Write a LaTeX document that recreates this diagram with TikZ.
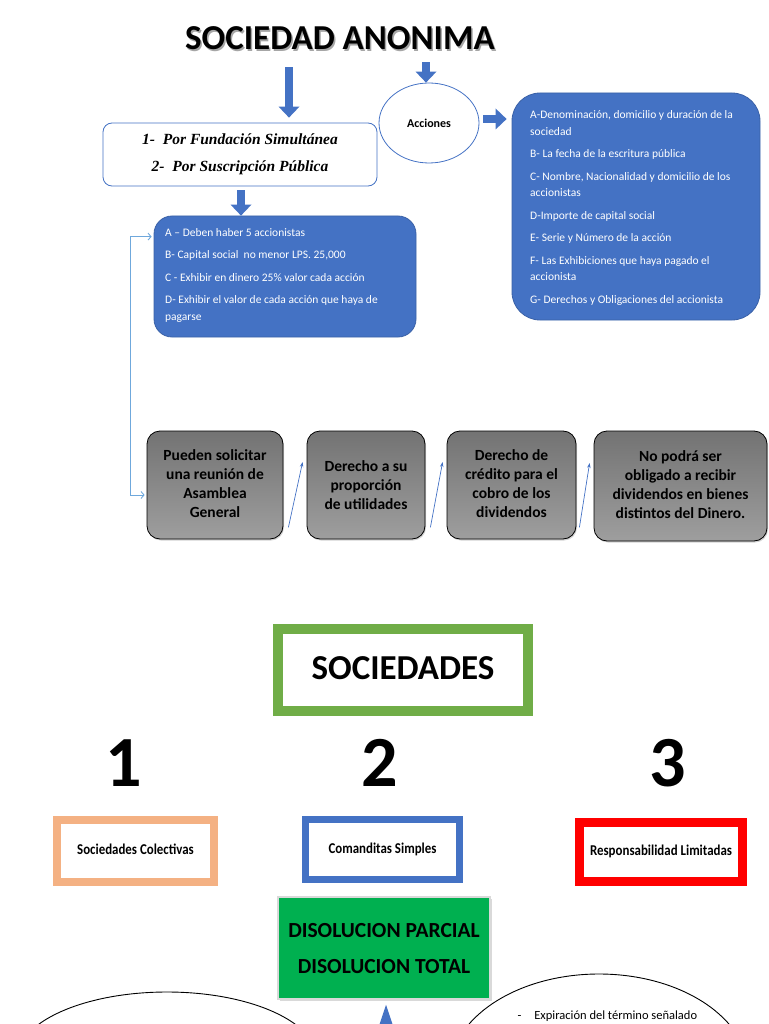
\documentclass[tikz,border=0pt]{standalone}
\usepackage{fontspec}
\setmainfont{Carlito}
\newfontfamily\fundfont{Liberation Serif}
\usetikzlibrary{calc,arrows.meta,shapes.geometric,shadows}
\definecolor{blockblue}{HTML}{4472C4}
\definecolor{linkblue}{HTML}{6FA8DC}
\definecolor{framegreen}{HTML}{70AD47}
\definecolor{fillgreen}{HTML}{00B050}
\definecolor{frameorange}{HTML}{F4B183}
\tikzset{
	bigarrow/.style={draw=blockblue, line width=8pt, -{Triangle[width=21pt,length=11pt,line width=0pt]}},
	uparrow/.style={draw=blockblue, line width=9pt, -{Triangle[width=30pt,length=45pt,line width=0pt]}},
	thinarrow/.style={draw=blockblue, line width=0.7pt, -{Stealth[length=5pt,width=3.5pt]}},
	linkarrow/.style={draw=linkblue, line width=0.9pt, {Straight Barb[length=3pt,width=7pt]}-{Straight Barb[length=3pt,width=7pt]}},
	fundbox/.style={draw=blockblue, line width=0.8pt, rounded corners=9pt, fill=white, minimum width=274pt, minimum height=63pt, align=center, font=\fundfont\bfseries\itshape\fontsize{15.5}{27}\selectfont},
	accnode/.style={draw=blockblue, line width=0.8pt, ellipse, minimum width=100pt, minimum height=80pt, font=\bfseries\fontsize{12}{14}\selectfont},
	bluebox/.style={draw=blockblue!85!black, line width=0.8pt, fill=blockblue},
	bluetext/.style={text=white, align=left, inner sep=0pt, font=\fontsize{11.5}{16.5}\selectfont},
	graybox/.style={draw=black, line width=0.8pt, rounded corners=13pt, top color=black!55, bottom color=black!38, drop shadow={opacity=0.35, shadow xshift=1pt, shadow yshift=-1.5pt}, minimum height=108pt, align=center, font=\bfseries\fontsize{15.5}{19}\selectfont},
	typebox/.style={fill=white, drop shadow={opacity=0.3, shadow xshift=1.5pt, shadow yshift=-1.5pt}, font=\bfseries\fontsize{15}{17}\selectfont},
	bignum/.style={font=\bfseries\fontsize{72}{74}\selectfont},
}

\begin{document}
\begin{tikzpicture}[x=1pt,y=-1pt]
	\useasboundingbox (0,0) rectangle (768,1024);
	\clip (0,0) rectangle (768,1024);
	
	%%%%% SOCIEDAD ANONIMA %%%%%
	
	\node[text=black!35, font=\bfseries\fontsize{35}{40}\selectfont] (titleshadow) at (341.5,40) {SOCIEDAD ANONIMA};
	\node[font=\bfseries\fontsize{35}{40}\selectfont] (title) at (340,38) {SOCIEDAD ANONIMA};
	
	\node[fundbox] (fund) at (240,154.5) {1-\ \ Por Fundación Simultánea\\2-\ \ Por Suscripción Pública};
	\node[accnode] (acc) at (429,123) {Acciones};
	
	\node[bluebox, rounded corners=28pt, minimum width=248pt, minimum height=227pt] (rbox) at (636,206.5) {};
	\node[bluetext, anchor=west] (rtext) at (530,208) {A-Denominación, domicilio y duración de la\\sociedad\\[6pt]
		B- La fecha de la escritura pública\\[6pt]
		C- Nombre, Nacionalidad y domicilio de los\\accionistas\\[6pt]
		D-Importe de capital social\\[6pt]
		E- Serie y Número de la acción\\[6pt]
		F- Las Exhibiciones que haya pagado el\\accionista\\[6pt]
		G- Derechos y Obligaciones del accionista};
	
	\node[bluebox, rounded corners=18pt, minimum width=262pt, minimum height=121pt] (lbox) at (285,276.5) {};
	\node[bluetext, anchor=west] (ltext) at (165,275) {A -- Deben haber 5 accionistas\\[6pt]
		B- Capital social\ \ no menor LPS. 25,000\\[6pt]
		C - Exhibir en dinero 25\% valor cada acción\\[6pt]
		D- Exhibir el valor de cada acción que haya de\\pagarse};
	
	\draw[bigarrow] ($(title.south)+(-51,14)$) -- ($(fund.north)+(49,-5)$);
	\draw[bigarrow] ($(title.south)+(86,9)$) -- ($(acc.north)+(-3,0)$);
	\draw[bigarrow] ($(acc.east)+(4,-4)$) -- ($(rbox.west)+(-5,-87.5)$);
	\draw[bigarrow] ($(fund.south)+(1,4)$) -- ($(lbox.north)+(-44,0)$);
	
	%%%%% DERECHOS %%%%%
	
	\node[graybox, minimum width=136pt] (g1) at (215,485) {\raisebox{3pt}{\begin{tabular}{@{}c@{}}Pueden solicitar\\una reunión de\\Asamblea\\General\end{tabular}}};
	\node[graybox, minimum width=118pt] (g2) at (366,485) {Derecho a su\\proporción\\de utilidades};
	\node[graybox, minimum width=129pt] (g3) at (511.5,485) {\raisebox{3pt}{\begin{tabular}{@{}c@{}}Derecho de\\crédito para el\\cobro de los\\dividendos\end{tabular}}};
	\node[graybox, minimum width=173pt, minimum height=110pt] (g4) at (680.5,486) {\raisebox{3pt}{\begin{tabular}{@{}c@{}}No podrá ser\\obligado a recibir\\dividendos en bienes\\distintos del Dinero.\end{tabular}}};
	
	\draw[linkarrow] ($(lbox.north west)+(-2,21)$) -- ++(-21,0) |- ($(g1.west)+(-2,10)$);
	\draw[thinarrow] ($(g1.south east)+(5,-12)$) -- ($(g2.west)+(-4,-23)$);
	\draw[thinarrow] ($(g2.south east)+(5,-12)$) -- ($(g3.west)+(-4,-23)$);
	\draw[thinarrow] ($(g3.south east)+(3,-12)$) -- ($(g4.west)+(-4,-23)$);
	
	%%%%% SOCIEDADES %%%%%
	
	\node[draw=framegreen, line width=10pt, minimum width=250pt, minimum height=82pt, font=\bfseries\fontsize{35}{38}\selectfont] (soc) at (403,670) {\raisebox{4pt}{SOCIEDADES}};
	
	\node[bignum] (n1) at (124,763) {1};
	\node[bignum] (n2) at (380,763) {2};
	\node[bignum] (n3) at (668,763) {3};
	
	\node[typebox, draw=frameorange, line width=8pt, minimum width=157pt, minimum height=62pt] (colect) at (135.5,851) {\raisebox{4pt}{\scalebox{0.86}[1]{Sociedades Colectivas}}};
	\node[typebox, draw=blockblue, line width=7pt, minimum width=154pt, minimum height=60pt] (comand) at (382.5,849.5) {\raisebox{3pt}{\scalebox{0.86}[1]{Comanditas Simples}}};
	\node[typebox, draw=red, line width=9pt, minimum width=163pt, minimum height=59pt] (limit) at (661,852) {\raisebox{4pt}{\scalebox{0.86}[1]{Responsabilidad Limitadas}}};
	
	\node[fill=fillgreen, draw=black!15, line width=1.5pt, drop shadow={opacity=0.3, shadow xshift=1.5pt, shadow yshift=-1.5pt}, minimum width=212pt, minimum height=102pt, align=center, font=\bfseries\fontsize{21.5}{36}\selectfont] (dis) at (384,948) {\raisebox{3pt}{\begin{tabular}{@{}c@{}}DISOLUCION PARCIAL\\DISOLUCION TOTAL\end{tabular}}};
	
	\coordinate (disfoot) at (386,1075);
	\draw[uparrow] (disfoot) -- ($(dis.south)+(2,5)$);
	
	\node[draw, ellipse, line width=0.9pt, minimum width=300pt, minimum height=134pt] (ell1) at (167,1059) {};
	\node[draw, ellipse, line width=0.9pt, minimum width=300pt, minimum height=200pt] (ell2) at (599,1074) {};
	\node[anchor=west, font=\fontsize{12.5}{14}\selectfont] (ell2text) at (514,1016) {-\hspace{13pt}Expiración del término señalado};
	
\end{tikzpicture}
\end{document}
